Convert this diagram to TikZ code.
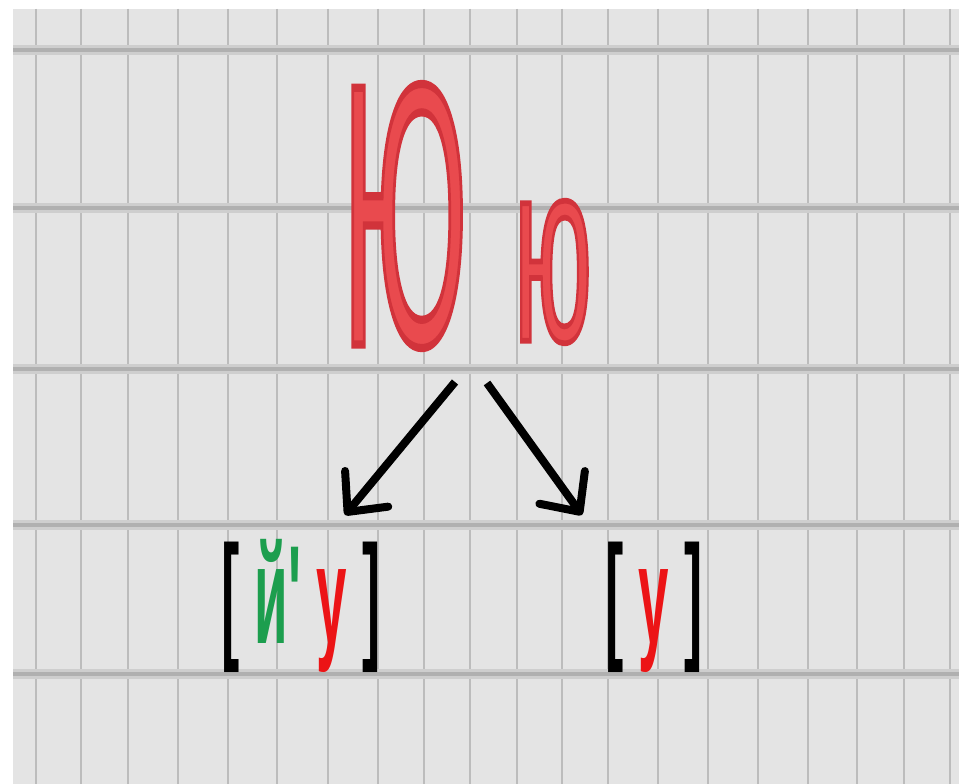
\documentclass[tikz,border=0pt]{standalone}
\usepackage{fontspec}
\setmainfont{Liberation Sans}
\newfontfamily\heavyfont{Liberation Sans}[FakeBold=2.2]
\usetikzlibrary{arrows.meta}
\definecolor{bg}{RGB}{228,228,228}
\definecolor{vline}{RGB}{188,188,188}
\definecolor{hline}{RGB}{176,176,176}
\definecolor{hhalo}{RGB}{206,206,206}
\definecolor{letterred}{RGB}{233,74,78}
\definecolor{sndred}{RGB}{236,20,22}
\definecolor{sndgreen}{RGB}{28,158,78}
\newcommand{\edgered}{\special{pdf:literal direct 0.82 0.2 0.23 RG}}
\begin{document}
\begin{tikzpicture}[x=1pt,y=-1pt,
  every node/.style={inner sep=0pt, outer sep=0pt},
  vrule/.style={vline, line width=2.5pt},
  hrule/.style={hline, line width=4.5pt},
  hruleh/.style={hhalo, line width=10pt},
  arrowline/.style={black, line width=8pt, -{Straight Barb[length=30pt,width=56pt,round]}},
  bigletter/.style={text=letterred, font=\heavyfont},
  sound/.style={anchor=base, font=\bfseries\fontsize{140}{140}\selectfont}]
\useasboundingbox (0,0) rectangle (959,784);
\fill[white] (0,0) rectangle (959,784);
\fill[bg] (13,9) rectangle (959,784);
\foreach \x in {36,81,128,178,228,277,328,378,424,470,517,562,608,658,708,758,808,857,904,950}
  \draw[vrule] (\x,9) -- (\x,784);
\foreach \y in {50,208,369,525,674} {
  \draw[hruleh] (13,\y) -- (959,\y);
  \draw[hrule] (13,\y) -- (959,\y);
}
\node[bigletter] (bigyu) at (405,216) {\edgered\resizebox{125pt}{260pt}{Ю}};
\node[bigletter] (smallyu) at (553,272) {\edgered\resizebox{78pt}{140pt}{ю}};
\coordinate (ls) at (455,382);
\coordinate (le) at (345,515);
\coordinate (rs) at (487,383);
\coordinate (re) at (582,515);
\draw[arrowline] (ls) -- (le);
\draw[arrowline] (rs) -- (re);
\node[sound] (soft) at (301,643) {\scalebox{0.39}[1]{[ {\color{sndgreen}й\textquotesingle} {\color{sndred}у} ]}};
\node[sound] (hard) at (654,643) {\scalebox{0.39}[1]{[ {\color{sndred}у} ]}};
\end{tikzpicture}
\end{document}
